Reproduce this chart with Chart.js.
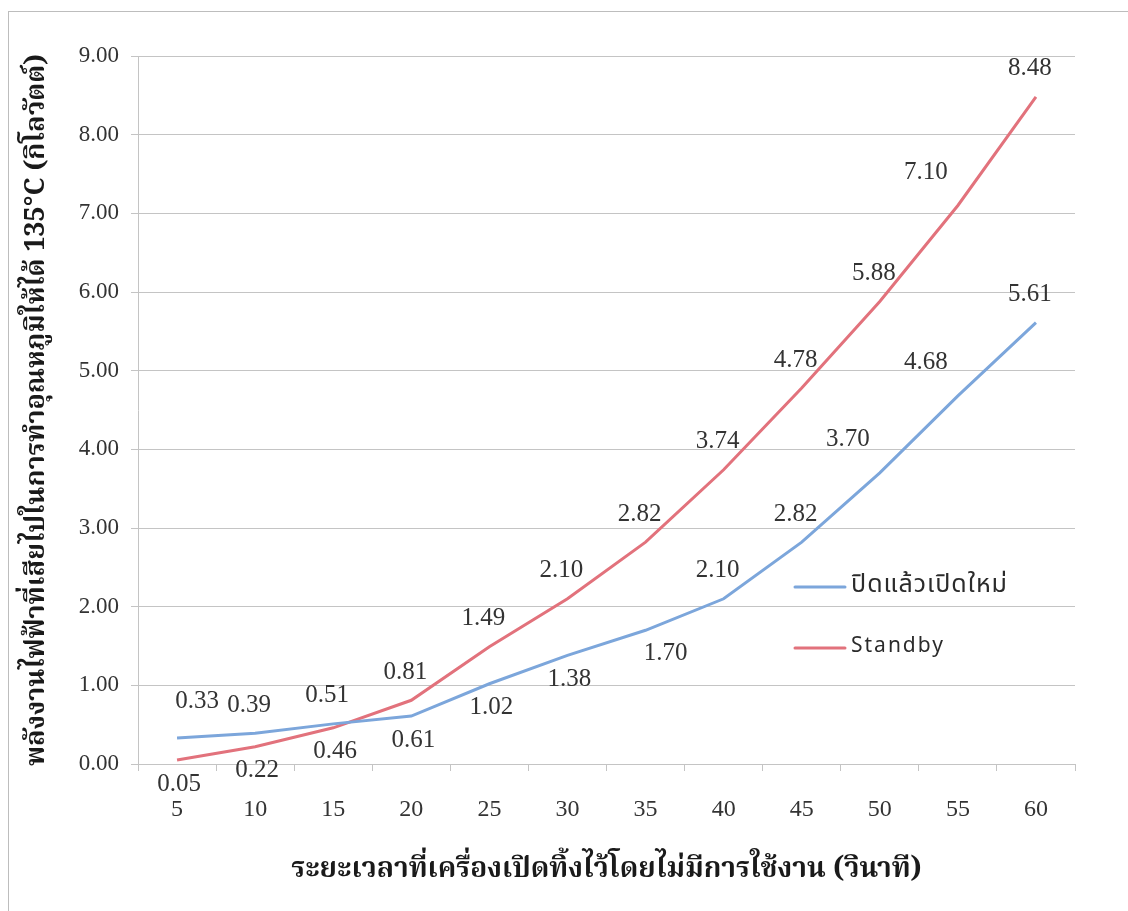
<!DOCTYPE html>
<html lang="th">
<head>
<meta charset="utf-8">
<title>พลังงานไฟฟ้าที่เสียไป</title>
<script src="https://cdn.jsdelivr.net/npm/chart.js@4.4.1/dist/chart.umd.min.js"></script>
<style>
  html, body { margin: 0; padding: 0; background: #ffffff; }
  #wrap { position: relative; width: 1128px; height: 911px; overflow: hidden; }
  #frame { position: absolute; left: 8px; top: 11px; width: 1200px; height: 1000px;
           border: 1px solid #bdbdbd; box-sizing: border-box; }
  canvas { position: absolute; left: 0; top: 0; }
</style>
</head>
<body>
<div id="wrap">
  <div id="frame"></div>
  <canvas id="chart" width="1128" height="911"></canvas>
</div>
<script>
// Idle time (seconds) before the machine is used again
const categories = ['5', '10', '15', '20', '25', '30', '35', '40', '45', '50', '55', '60'];

// Energy needed to bring the heater back to 135°C (kilowatt)
const restartValues = [0.33, 0.39, 0.51, 0.61, 1.02, 1.38, 1.70, 2.10, 2.82, 3.70, 4.68, 5.61];
const standbyValues = [0.05, 0.22, 0.46, 0.81, 1.49, 2.10, 2.82, 3.74, 4.78, 5.88, 7.10, 8.48];

const seriesNames = ['ปิดแล้วเปิดใหม่', 'Standby'];

// Where each value label sits relative to its point
const restartLabelPlace = ['aboveRight', 'above', 'above', 'below', 'below', 'below',
                           'belowRight', 'above', 'above', 'aboveLeft', 'aboveLeft', 'above'];
const standbyLabelPlace = ['below', 'below', 'below', 'above', 'above', 'above',
                           'above', 'above', 'above', 'above', 'aboveLeft', 'above'];

const yTitle = 'พลังงานไฟฟ้าที่เสียไปในการทำอุณหภูมิให้ได้ 135°C (กิโลวัตต์)';
const xTitle = 'ระยะเวลาที่เครื่องเปิดทิ้งไว้โดยไม่มีการใช้งาน (วินาที)';

const BLUE = '#7ca6db';
const RED = '#e2727c';
const GRID = '#c4c4c4';
const TEXT = '#333333';
const SERIF = '"Liberation Serif", "DejaVu Serif", serif';
const THAI = 'Tahoma, "Noto Sans Thai", Loma, Garuda, "DejaVu Sans", sans-serif';
const THAI_SERIF = '"Noto Serif Thai", "Liberation Serif", Norasi, "DejaVu Serif", serif';

// Value labels drawn next to each point
const valueLabels = {
  id: 'valueLabels',
  afterDatasetsDraw(chart) {
    const ctx = chart.ctx;
    const places = [restartLabelPlace, standbyLabelPlace];
    const shift = {
      above: [-6, -28], below: [2, 24], aboveLeft: [-32, -33],
      aboveRight: [20, -37], belowRight: [20, 23]
    };
    ctx.save();
    ctx.font = '25px ' + SERIF;
    ctx.fillStyle = TEXT;
    ctx.textAlign = 'center';
    ctx.textBaseline = 'middle';
    chart.data.datasets.forEach((ds, i) => {
      const meta = chart.getDatasetMeta(i);
      meta.data.forEach((pt, j) => {
        const [dx, dy] = shift[places[i][j]];
        ctx.fillText(ds.data[j].toFixed(2), pt.x + dx, pt.y + dy);
      });
    });
    ctx.restore();
  }
};

// Legend placed inside the plot, on the right
const innerLegend = {
  id: 'innerLegend',
  afterDraw(chart) {
    const ctx = chart.ctx;
    const area = chart.chartArea;
    const x0 = area.right - 280;
    const rows = [area.top + 531, area.top + 592];
    const fonts = ['25px ' + THAI, '21px ' + THAI];
    const spacing = ['1px', '2px'];
    ctx.save();
    chart.data.datasets.forEach((ds, i) => {
      const y = rows[i];
      ctx.strokeStyle = ds.borderColor;
      ctx.lineWidth = 3;
      ctx.lineCap = 'round';
      ctx.beginPath();
      ctx.moveTo(x0, y);
      ctx.lineTo(x0 + 50, y);
      ctx.stroke();
      ctx.fillStyle = '#2b2b2b';
      ctx.font = fonts[i];
      ctx.letterSpacing = spacing[i];
      ctx.textAlign = 'left';
      ctx.textBaseline = 'middle';
      ctx.fillText(ds.label, x0 + 56, y);
    });
    ctx.restore();
  }
};

new Chart(document.getElementById('chart'), {
  type: 'line',
  data: {
    labels: categories,
    datasets: [
      { label: seriesNames[0], data: restartValues, borderColor: BLUE, backgroundColor: BLUE,
        borderWidth: 3, pointRadius: 0, tension: 0, fill: false },
      { label: seriesNames[1], data: standbyValues, borderColor: RED, backgroundColor: RED,
        borderWidth: 3, pointRadius: 0, tension: 0, fill: false }
    ]
  },
  options: {
    responsive: false,
    animation: false,
    events: [],
    layout: { padding: { left: 0, right: 53, top: 56, bottom: 0 } },
    plugins: {
      legend: { display: false },
      tooltip: { enabled: false }
    },
    scales: {
      x: {
        offset: true,
        grid: { offset: true, drawOnChartArea: false, drawTicks: true, tickLength: 7, color: GRID },
        border: { color: GRID, width: 1 },
        ticks: { color: TEXT, font: { family: SERIF, size: 24 }, padding: 24, maxRotation: 0 },
        title: { display: true, text: xTitle, color: '#1a1a1a',
                 font: { family: THAI_SERIF, size: 28, weight: 'bold' },
                 padding: { top: 0, bottom: 22 } },
        afterFit(scale) { scale.height = 147; }
      },
      y: {
        min: 0,
        max: 9,
        grid: { color: GRID, tickLength: 7 },
        border: { color: GRID, width: 1 },
        ticks: { stepSize: 1, color: TEXT, font: { family: SERIF, size: 23 }, padding: 12,
                 callback: (v) => Number(v).toFixed(2) },
        title: { display: true, text: yTitle, color: '#1a1a1a',
                 font: { family: THAI_SERIF, size: 27, weight: 'bold' },
                 padding: { top: 23, bottom: 0 } },
        afterFit(scale) { scale.width = 138; }
      }
    }
  },
  plugins: [valueLabels, innerLegend]
});
</script>
</body>
</html>
